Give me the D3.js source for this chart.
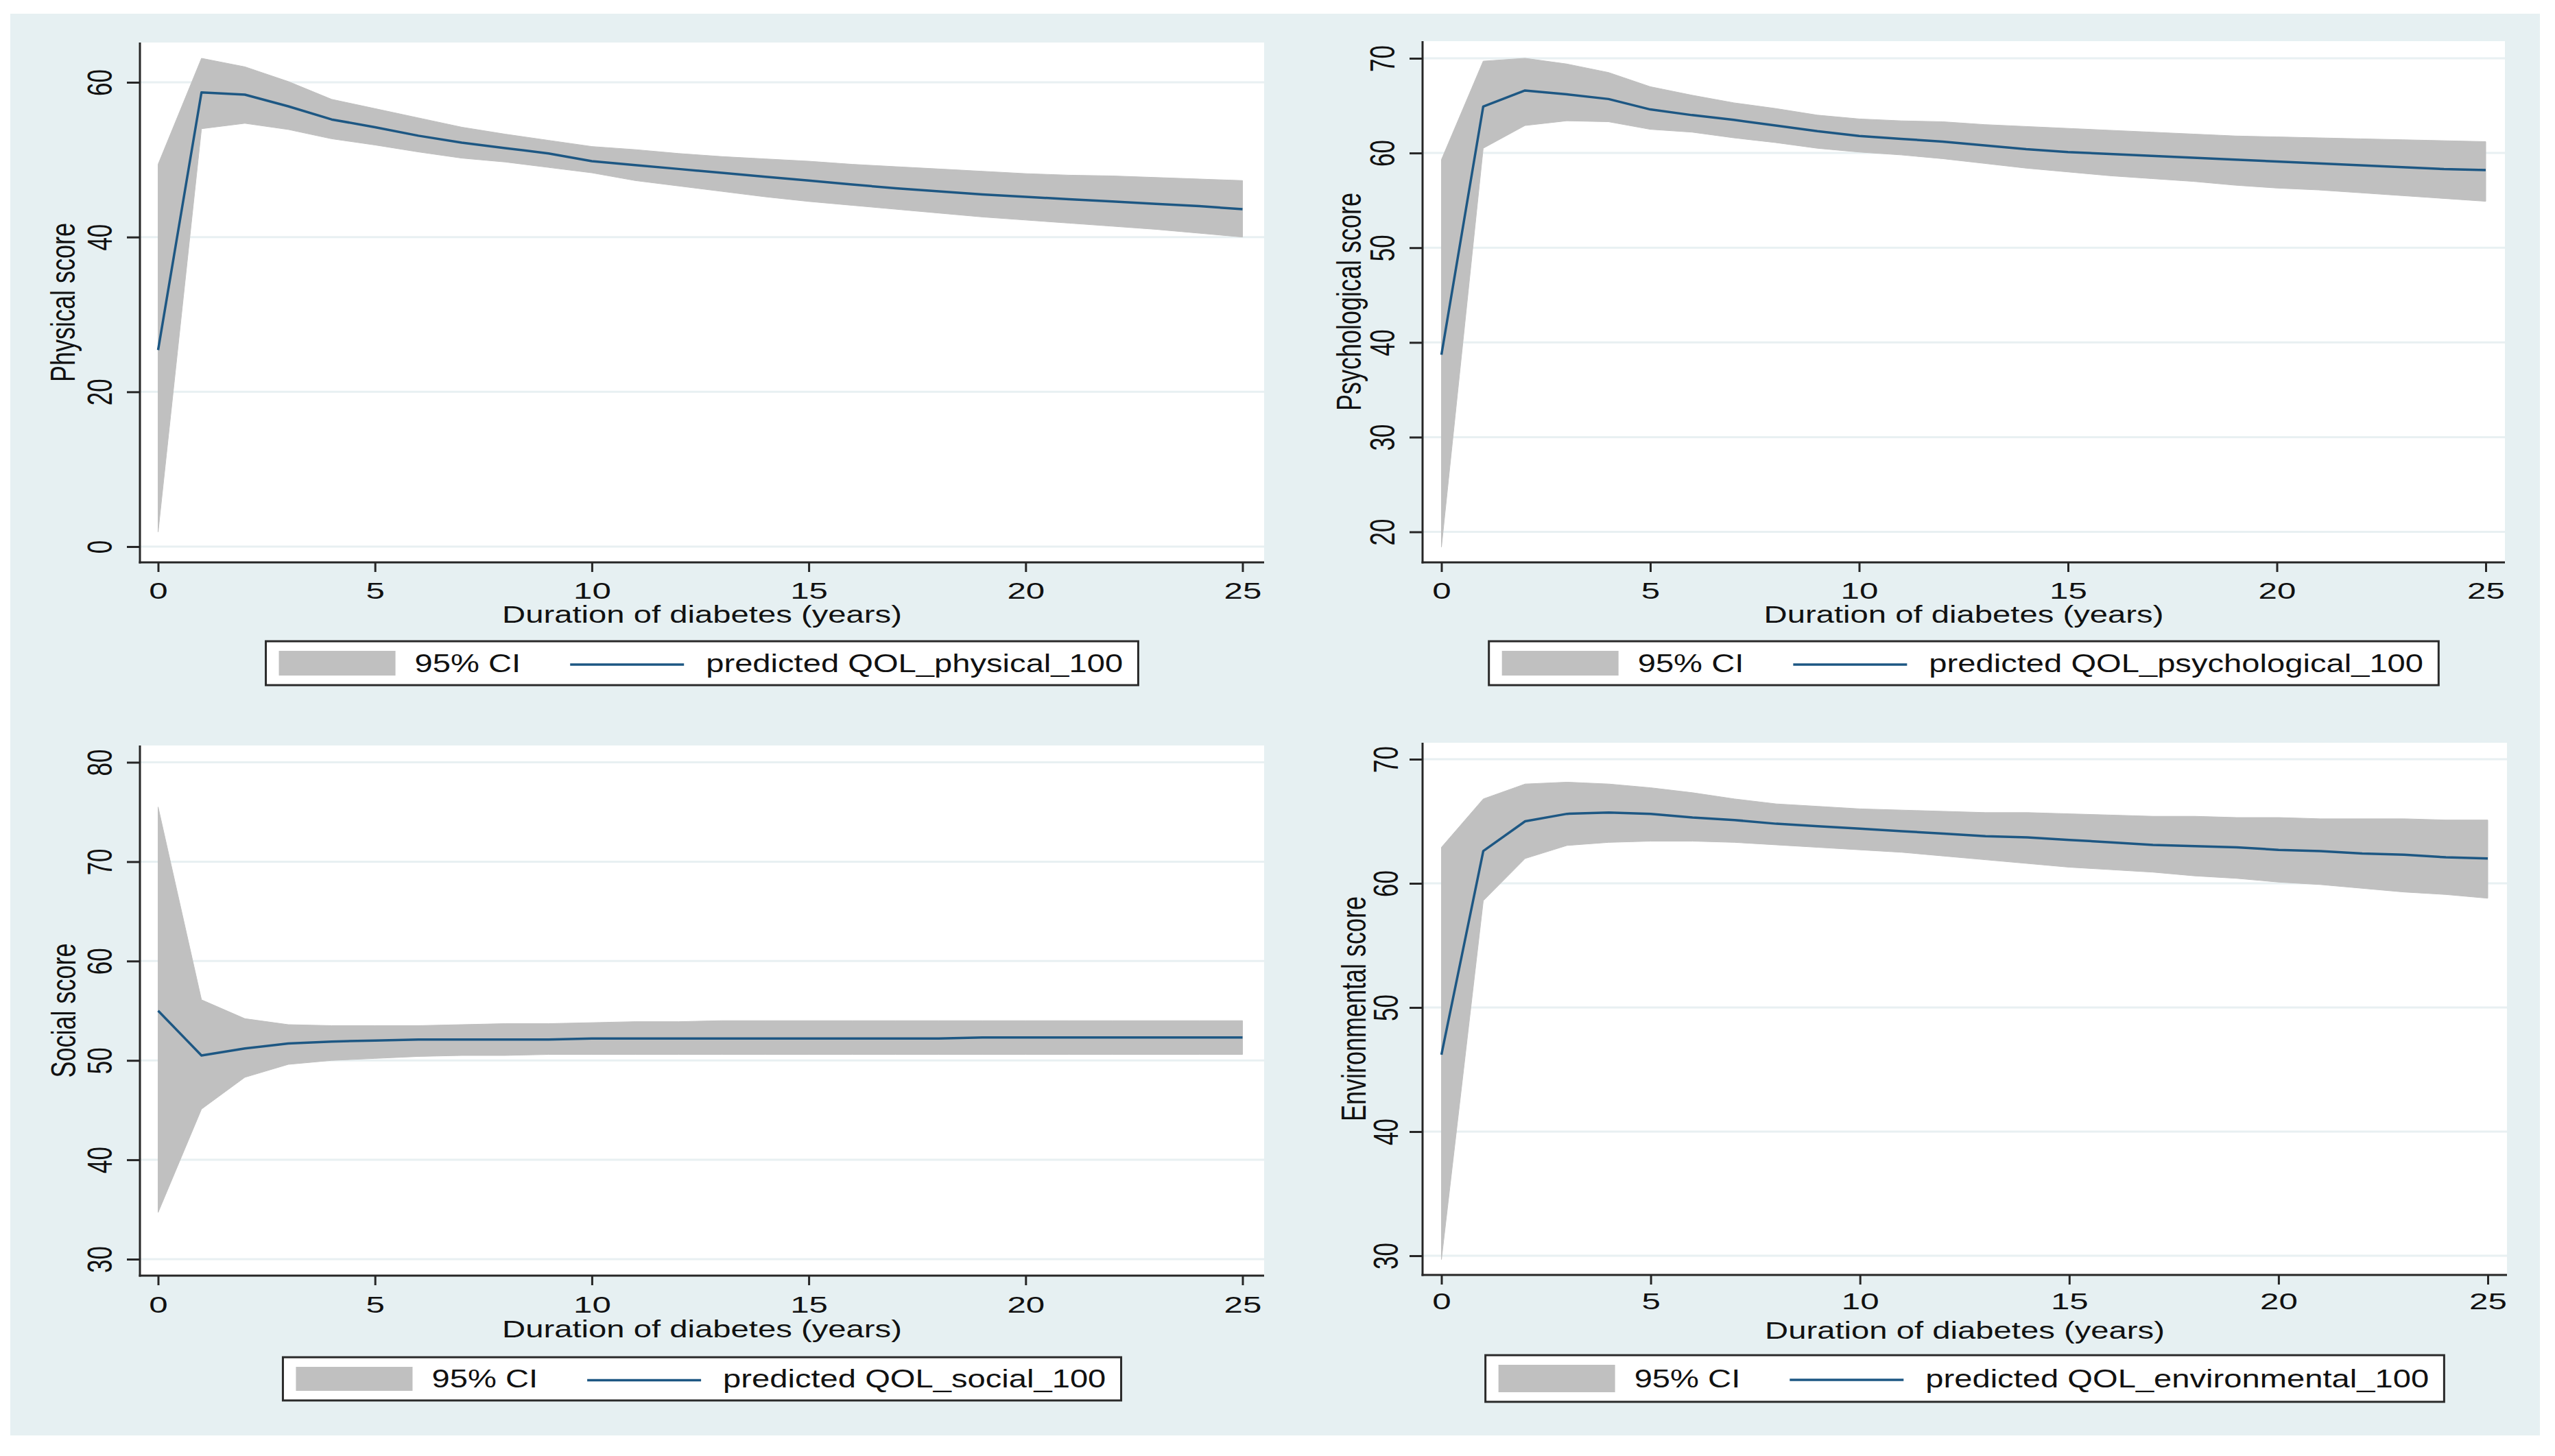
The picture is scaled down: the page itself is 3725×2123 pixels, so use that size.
<!DOCTYPE html>
<html>
<head>
<meta charset="utf-8">
<script src="https://cdn.jsdelivr.net/npm/d3@7/dist/d3.min.js"></script>
<style>
  body { margin: 0; background: #ffffff; }
  text { font-family: "Liberation Sans", Arial, sans-serif; fill: #111; }
</style>
</head>
<body>
<div id="chart"></div>
<script>
// duration of diabetes (years)
var years = [0, 1, 2, 3, 4, 5, 6, 7, 8, 9, 10, 11, 12, 13, 14, 15, 16, 17, 18, 19, 20, 21, 22, 23, 24, 25];
var xTicks = [0, 5, 10, 15, 20, 25];

var physicalFit = [25.4, 58.7, 58.4, 56.9, 55.2, 54.2, 53.1, 52.2, 51.5, 50.8, 49.8, 49.3, 48.8, 48.3, 47.8, 47.3, 46.8, 46.3, 45.9, 45.5, 45.2, 44.9, 44.6, 44.3, 44.0, 43.6];
var physicalHi = [49.4, 63.1, 62.0, 60.1, 57.8, 56.6, 55.4, 54.2, 53.3, 52.5, 51.7, 51.3, 50.8, 50.4, 50.1, 49.8, 49.4, 49.1, 48.8, 48.5, 48.2, 48.0, 47.9, 47.7, 47.5, 47.3];
var physicalLo = [1.9, 54.0, 54.7, 53.9, 52.7, 51.9, 51.0, 50.2, 49.7, 49.0, 48.3, 47.3, 46.6, 45.9, 45.2, 44.6, 44.1, 43.6, 43.1, 42.6, 42.2, 41.8, 41.4, 41.0, 40.5, 40.0];
var physicalTicks = [0, 20, 40, 60];

var psychFit = [38.7, 64.9, 66.6, 66.2, 65.7, 64.6, 64.0, 63.5, 62.9, 62.3, 61.8, 61.5, 61.2, 60.8, 60.4, 60.1, 59.9, 59.7, 59.5, 59.3, 59.1, 58.9, 58.7, 58.5, 58.3, 58.2];
var psychHi = [59.3, 69.7, 70.0, 69.4, 68.5, 67.0, 66.1, 65.3, 64.7, 64.0, 63.6, 63.4, 63.3, 63.0, 62.8, 62.6, 62.4, 62.2, 62.0, 61.8, 61.7, 61.6, 61.5, 61.4, 61.3, 61.2];
var psychLo = [18.4, 60.5, 62.9, 63.4, 63.3, 62.5, 62.2, 61.6, 61.1, 60.5, 60.1, 59.8, 59.4, 58.9, 58.4, 58.0, 57.6, 57.3, 57.0, 56.6, 56.3, 56.1, 55.8, 55.5, 55.2, 54.9];
var psychTicks = [20, 30, 40, 50, 60, 70];

var socialFit = [55.0, 50.5, 51.2, 51.7, 51.9, 52.0, 52.1, 52.1, 52.1, 52.1, 52.2, 52.2, 52.2, 52.2, 52.2, 52.2, 52.2, 52.2, 52.2, 52.3, 52.3, 52.3, 52.3, 52.3, 52.3, 52.3];
var socialHi = [75.5, 56.1, 54.2, 53.6, 53.5, 53.5, 53.5, 53.6, 53.7, 53.7, 53.8, 53.9, 53.9, 54.0, 54.0, 54.0, 54.0, 54.0, 54.0, 54.0, 54.0, 54.0, 54.0, 54.0, 54.0, 54.0];
var socialLo = [34.7, 45.1, 48.3, 49.6, 50.0, 50.2, 50.4, 50.5, 50.5, 50.6, 50.6, 50.6, 50.6, 50.6, 50.6, 50.6, 50.6, 50.6, 50.6, 50.6, 50.6, 50.6, 50.6, 50.6, 50.6, 50.6];
var socialTicks = [30, 40, 50, 60, 70, 80];

var envFit = [46.2, 62.6, 65.0, 65.6, 65.7, 65.6, 65.3, 65.1, 64.8, 64.6, 64.4, 64.2, 64.0, 63.8, 63.7, 63.5, 63.3, 63.1, 63.0, 62.9, 62.7, 62.6, 62.4, 62.3, 62.1, 62.0];
var envHi = [62.9, 66.8, 68.0, 68.15, 68.0, 67.7, 67.3, 66.8, 66.4, 66.2, 66.0, 65.9, 65.8, 65.7, 65.7, 65.6, 65.5, 65.4, 65.4, 65.3, 65.3, 65.2, 65.2, 65.2, 65.1, 65.1];
var envLo = [29.7, 58.6, 62.0, 63.05, 63.3, 63.4, 63.4, 63.3, 63.1, 62.9, 62.7, 62.5, 62.2, 61.9, 61.6, 61.3, 61.1, 60.9, 60.6, 60.4, 60.1, 59.9, 59.6, 59.3, 59.1, 58.8];
var envTicks = [30, 40, 50, 60, 70];

var xTitle = "Duration of diabetes (years)";
var ciLabel = "95% CI";

var svgWidth = 3725;
var svgHeight = 2123;

var bgColor = "#e6f0f2";
var gridColor = "#e8f0f2";
var ciColor = "#c0c0c0";
var lineColor = "#1d5783";
var axisColor = "#262626";

var svg = d3.select("#chart")
  .append("svg")
  .attr("width", svgWidth)
  .attr("height", svgHeight);

svg.append("rect")
  .attr("x", 15)
  .attr("y", 20)
  .attr("width", 3688)
  .attr("height", 2073)
  .attr("fill", bgColor);

// plot boxes and offsets
var panels = [
  { fit: physicalFit, hi: physicalHi, lo: physicalLo, ticks: physicalTicks,
    yTitle: "Physical score", legend: "predicted QOL_physical_100",
    box: [204, 62, 1843, 820], xr: [230.5, 1811.5], yr: [797, 120],
    tickDy: 41, titleDy: 75, yLabDx: -59, yTitleDx: -113, legTop: 935, legH: 64 },
  { fit: psychFit, hi: psychHi, lo: psychLo, ticks: psychTicks,
    yTitle: "Psychological score", legend: "predicted QOL_psychological_100",
    box: [2074, 60, 3652, 820], xr: [2101.5, 3624], yr: [775.5, 85],
    tickDy: 41, titleDy: 75, yLabDx: -59, yTitleDx: -108, legTop: 935, legH: 64 },
  { fit: socialFit, hi: socialHi, lo: socialLo, ticks: socialTicks,
    yTitle: "Social score", legend: "predicted QOL_social_100",
    box: [204, 1087, 1843, 1860], xr: [230.5, 1811.5], yr: [1836, 1111.5],
    tickDy: 42, titleDy: 77, yLabDx: -59, yTitleDx: -112, legTop: 1979, legH: 63 },
  { fit: envFit, hi: envHi, lo: envLo, ticks: envTicks,
    yTitle: "Environmental score", legend: "predicted QOL_environmental_100",
    box: [2074, 1083, 3655, 1859], xr: [2101.5, 3627], yr: [1831, 1107],
    tickDy: 38, titleDy: 80, yLabDx: -54, yTitleDx: -101, legTop: 1976, legH: 68 }
];

var tickScale = 1.45;
var titleScale = 1.35;
var legScale = 1.31;
var yTitleScale = 1.4;

panels.forEach(function(p) {
  var x0 = p.box[0], y0 = p.box[1], x1 = p.box[2], y1 = p.box[3];

  var xScale = d3.scaleLinear().domain([0, 25]).range(p.xr);
  var yScale = d3.scaleLinear()
    .domain([p.ticks[0], p.ticks[p.ticks.length - 1]])
    .range(p.yr);

  var g = svg.append("g");

  g.append("rect")
    .attr("x", x0)
    .attr("y", y0)
    .attr("width", x1 - x0)
    .attr("height", y1 - y0)
    .attr("fill", "#ffffff");

  g.selectAll(".grid")
    .data(p.ticks)
    .enter()
    .append("line")
    .attr("x1", x0)
    .attr("x2", x1)
    .attr("y1", d => yScale(d))
    .attr("y2", d => yScale(d))
    .attr("stroke", gridColor)
    .attr("stroke-width", 3);

  var rows = years.map(function(yr, i) {
    return { x: yr, fit: p.fit[i], lo: p.lo[i], hi: p.hi[i] };
  });

  var area = d3.area()
    .x(d => xScale(d.x))
    .y0(d => yScale(d.lo))
    .y1(d => yScale(d.hi));

  g.append("path")
    .datum(rows)
    .attr("d", area)
    .attr("fill", ciColor)
    .attr("stroke", ciColor)
    .attr("stroke-width", 1);

  var line = d3.line()
    .x(d => xScale(d.x))
    .y(d => yScale(d.fit));

  g.append("path")
    .datum(rows)
    .attr("d", line)
    .attr("fill", "none")
    .attr("stroke", lineColor)
    .attr("stroke-width", 3.5)
    .attr("stroke-linejoin", "round");

  // axis lines
  g.append("line")
    .attr("x1", x0).attr("x2", x0)
    .attr("y1", y0).attr("y2", y1 + 1.5)
    .attr("stroke", axisColor)
    .attr("stroke-width", 3);
  g.append("line")
    .attr("x1", x0 - 1.5).attr("x2", x1)
    .attr("y1", y1).attr("y2", y1)
    .attr("stroke", axisColor)
    .attr("stroke-width", 3);

  // y axis
  var leftAxis = d3.axisLeft(yScale)
    .tickValues(p.ticks)
    .tickSize(19)
    .tickSizeOuter(0);
  var ya = g.append("g")
    .attr("transform", `translate(${x0}, 0)`)
    .call(leftAxis);
  ya.select(".domain").remove();
  ya.selectAll(".tick line")
    .attr("stroke", axisColor)
    .attr("stroke-width", 3);
  ya.selectAll(".tick text")
    .attr("x", 0)
    .attr("y", 0)
    .attr("dy", "0.36em")
    .attr("text-anchor", "middle")
    .attr("font-size", 35)
    .attr("fill", "#111")
    .attr("font-family", "Liberation Sans, Arial, sans-serif")
    .attr("transform", `translate(${p.yLabDx}, 0) scale(${tickScale}, 1) rotate(-90)`);

  // x axis
  var bottomAxis = d3.axisBottom(xScale)
    .tickValues(xTicks)
    .tickSize(14)
    .tickSizeOuter(0);
  var xa = g.append("g")
    .attr("transform", `translate(0, ${y1})`)
    .call(bottomAxis);
  xa.select(".domain").remove();
  xa.selectAll(".tick line")
    .attr("stroke", axisColor)
    .attr("stroke-width", 3);
  xa.selectAll(".tick text")
    .attr("x", 0)
    .attr("y", 0)
    .attr("dy", "0.36em")
    .attr("text-anchor", "middle")
    .attr("font-size", 34)
    .attr("fill", "#111")
    .attr("font-family", "Liberation Sans, Arial, sans-serif")
    .attr("transform", `translate(0, ${p.tickDy}) scale(${tickScale}, 1)`);

  // axis titles
  var cx = (x0 + x1) / 2;
  var cy = (y0 + y1) / 2;
  g.append("text")
    .attr("text-anchor", "middle")
    .attr("dy", "0.36em")
    .attr("font-size", 35)
    .attr("transform", `translate(${cx}, ${y1 + p.titleDy}) scale(${titleScale}, 1)`)
    .text(xTitle);

  g.append("text")
    .attr("text-anchor", "middle")
    .attr("dy", "0.36em")
    .attr("font-size", 36)
    .attr("transform", `translate(${x0 + p.yTitleDx}, ${cy}) scale(${yTitleScale}, 1) rotate(-90)`)
    .text(p.yTitle);

  // legend
  var leg = g.append("g");
  var box = leg.append("rect")
    .attr("fill", "#ffffff")
    .attr("stroke", "#2a2a2a")
    .attr("stroke-width", 3);
  var sw = leg.append("rect").attr("fill", ciColor);
  var t1 = leg.append("text").attr("font-size", 36).attr("dy", "0.36em").text(ciLabel);
  var ln = leg.append("line").attr("stroke", lineColor).attr("stroke-width", 3.5);
  var t2 = leg.append("text").attr("font-size", 36).attr("dy", "0.36em").text(p.legend);

  var w1 = t1.node().getComputedTextLength() * legScale;
  var w2 = t2.node().getComputedTextLength() * legScale;
  var pad = 19, swW = 170, gap1 = 28, gap2 = 72, lnW = 166, gap3 = 32, padR = 22;
  var total = pad + swW + gap1 + w1 + gap2 + lnW + gap3 + w2 + padR;
  var lx = cx - total / 2;
  var ly = p.legTop;
  var mid = ly + p.legH / 2;

  box.attr("x", lx).attr("y", ly).attr("width", total).attr("height", p.legH);
  sw.attr("x", lx + pad).attr("y", ly + 14).attr("width", swW).attr("height", p.legH - 28);
  var tx1 = lx + pad + swW + gap1;
  t1.attr("transform", `translate(${tx1}, ${mid}) scale(${legScale}, 1)`);
  var lnx = tx1 + w1 + gap2;
  ln.attr("x1", lnx).attr("x2", lnx + lnW).attr("y1", mid + 2).attr("y2", mid + 2);
  var tx2 = lnx + lnW + gap3;
  t2.attr("transform", `translate(${tx2}, ${mid}) scale(${legScale}, 1)`);
});
</script>
</body>
</html>
